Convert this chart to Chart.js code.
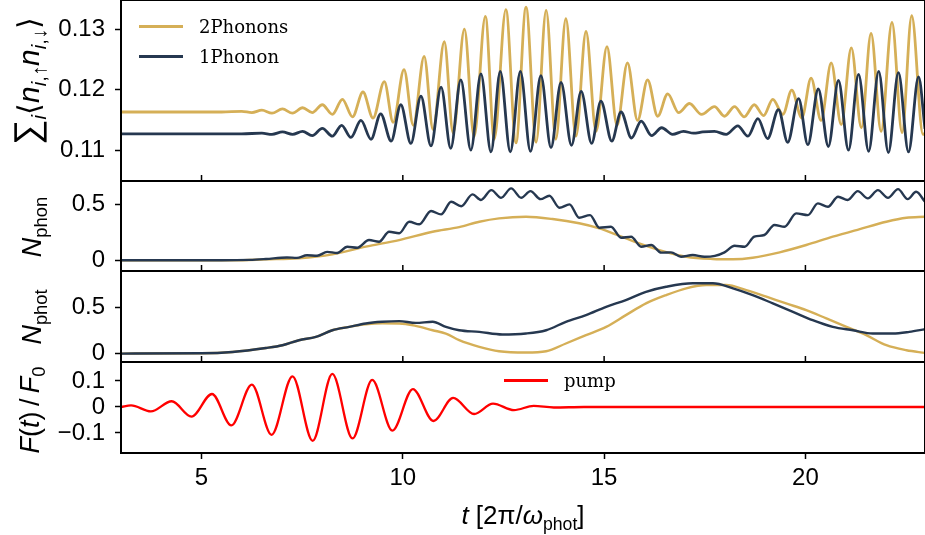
<!DOCTYPE html>
<html>
<head>
<meta charset="utf-8">
<script src="https://cdn.jsdelivr.net/npm/chart.js@4.4.1/dist/chart.umd.min.js"></script>
<style>
  html, body { margin: 0; padding: 0; background: #fff; }
  #fig { position: relative; width: 925px; height: 535px; overflow: hidden; font-family: 'Liberation Sans', Arial, sans-serif; color: #000; }
  .panel { position: absolute; left: 0; width: 925px; }
  .ylab { position: absolute; transform: translate(-50%, -50%) rotate(-90deg); white-space: nowrap; font-size: 27px; }
  .xlab { position: absolute; transform: translate(-50%, -50%); white-space: nowrap; font-size: 26px; }
  .legend { position: absolute; font-family: 'DejaVu Serif', serif; font-size: 18px; }
  .legend .item { position: absolute; left: 0; height: 30px; width: 200px; }
  .legend .swatch { position: absolute; left: 0; top: 13px; width: 44px; height: 3px; }
  .legend .txt { position: absolute; left: 60px; top: 0; line-height: 30px; white-space: nowrap; }
  sub { font-size: 68%; vertical-align: -0.35em; line-height: 0; }
</style>
</head>
<body>
<div id="fig">
  <div class="panel" id="p1" style="top:-8px;height:197px"><canvas id="c1"></canvas></div>
  <div class="panel" id="p2" style="top:173px;height:106px"><canvas id="c2"></canvas></div>
  <div class="panel" id="p3" style="top:263px;height:107px"><canvas id="c3"></canvas></div>
  <div class="panel" id="p4" style="top:354px;height:181px"><canvas id="c4"></canvas></div>

  <div class="ylab" style="left:27px;top:81px;font-size:30px"><span style="font-size:120%">&sum;</span><sub><i>i</i></sub>&#x27E8;<i>n</i><sub><i>i</i>,&uarr;</sub><i>n</i><sub><i>i</i>,&darr;</sub>&#x27E9;</div>
  <div class="ylab" style="left:32px;top:227px"><i>N</i><sub>phon</sub></div>
  <div class="ylab" style="left:32px;top:317px"><i>N</i><sub>phot</sub></div>
  <div class="ylab" style="left:30px;top:410px"><i>F</i>(<i>t</i>)&thinsp;/&thinsp;<i>F</i><sub>0</sub></div>
  <div class="xlab" style="left:523px;top:515px"><i>t</i> [2&pi;/<i>&omega;</i><sub>phot</sub>]</div>

  <div class="legend" id="leg1" style="left:139px;top:12px"></div>
  <div class="legend" id="leg2" style="left:504px;top:366px"></div>
</div>
<script>
// x axis
const xMin = 3.0;
const xMax = 22.97;
const xTicks = [5, 10, 15, 20];

const seriesLabels = ['2Phonons', '1Phonon'];
const pumpLabel = 'pump';
const goldColor = '#d5af57';
const blueColor = '#263850';

// top panel: sum_i <n_up n_down>
const corrTicks = [0.11, 0.12, 0.13];
const corrGoldT = [3.0, 5.5, 6.0, 6.25, 6.5, 6.75, 7.01, 7.26, 7.51, 7.75, 8.0, 8.25, 8.5, 8.75, 9.01, 9.26, 9.54, 9.76,
  10.03, 10.26, 10.53, 10.75, 11.03, 11.25, 11.53, 11.77, 12.05, 12.27, 12.56, 12.81, 13.06, 13.31, 13.56, 13.8,
  14.05, 14.3, 14.55, 14.8, 15.07, 15.32, 15.58, 15.83, 16.08, 16.33, 16.58, 16.85, 17.12, 17.42, 17.74, 17.99,
  18.24, 18.48, 18.73, 18.96, 19.19, 19.44, 19.66, 19.91, 20.14, 20.39, 20.64, 20.89, 21.14, 21.39, 21.63, 21.88,
  22.15, 22.4, 22.64, 22.92, 22.97];
const corrGoldV = [0.1163, 0.1163, 0.1164, 0.1162, 0.1166, 0.1161, 0.1168, 0.1161, 0.1170, 0.1162, 0.1175, 0.1159,
  0.1184, 0.1155, 0.1196, 0.1153, 0.1213, 0.1146, 0.1233, 0.1141, 0.1255, 0.1134, 0.1279, 0.1128, 0.1300, 0.1122,
  0.1321, 0.1118, 0.1332, 0.1112, 0.1336, 0.1113, 0.1331, 0.1118, 0.1317, 0.1123, 0.1296, 0.1131, 0.1271, 0.1141,
  0.1244, 0.1149, 0.1216, 0.1156, 0.1193, 0.1162, 0.1177, 0.1159, 0.1172, 0.1156, 0.1172, 0.1155, 0.1175, 0.1157,
  0.1184, 0.1159, 0.1199, 0.1153, 0.1219, 0.1149, 0.1244, 0.1142, 0.1269, 0.1137, 0.1293, 0.1131, 0.1311, 0.1129,
  0.1322, 0.1126, 0.1128];
const corrBlueT = [3.0, 6.0, 6.5, 6.75, 7.01, 7.26, 7.51, 7.75, 8.0, 8.25, 8.48, 8.71, 8.96, 9.21, 9.45, 9.71, 9.95,
  10.2, 10.45, 10.7, 10.95, 11.19, 11.44, 11.69, 11.94, 12.19, 12.42, 12.67, 12.92, 13.17, 13.43, 13.68, 13.93,
  14.19, 14.43, 14.69, 14.92, 15.19, 15.42, 15.68, 15.92, 16.18, 16.43, 16.7, 16.97, 17.22, 17.45, 17.74, 18.03,
  18.32, 18.57, 18.82, 19.06, 19.33, 19.56, 19.83, 20.06, 20.32, 20.57, 20.82, 21.07, 21.32, 21.57, 21.82, 22.06,
  22.31, 22.56, 22.81, 22.97];
const corrBlueV = [0.1127, 0.1127, 0.1128, 0.1126, 0.1130, 0.1126, 0.1131, 0.1124, 0.1136, 0.1123, 0.1141, 0.1121,
  0.1149, 0.1118, 0.1160, 0.1115, 0.1175, 0.1111, 0.1189, 0.1107, 0.1204, 0.1103, 0.1216, 0.1100, 0.1226, 0.1097,
  0.1230, 0.1097, 0.1230, 0.1098, 0.1223, 0.1104, 0.1212, 0.1108, 0.1197, 0.1111, 0.1181, 0.1115, 0.1163, 0.1120,
  0.1148, 0.1124, 0.1137, 0.1126, 0.1131, 0.1128, 0.1130, 0.1131, 0.1126, 0.1140, 0.1123, 0.1152, 0.1119, 0.1167,
  0.1113, 0.1185, 0.1109, 0.1201, 0.1106, 0.1215, 0.1100, 0.1225, 0.1098, 0.1230, 0.1096, 0.1228, 0.1097, 0.1221,
  0.1135];

// N_phon
const phonTicks = [0, 0.5];
const phonGoldT = [3.0, 5.8, 6.6, 7.42, 8.25, 9.08, 9.91, 10.74, 11.4, 11.9, 12.39, 13.06, 13.72, 14.38, 14.88, 15.38,
  15.87, 16.37, 17.04, 17.7, 18.2, 18.69, 19.36, 20.02, 20.68, 21.35, 22.01, 22.51, 22.97];
const phonGoldV = [0, 0, 0.008, 0.018, 0.053, 0.121, 0.18, 0.254, 0.295, 0.343, 0.373, 0.387, 0.367, 0.329, 0.284,
  0.218, 0.151, 0.091, 0.032, 0.012, 0.009, 0.023, 0.071, 0.136, 0.21, 0.278, 0.343, 0.378, 0.387];
const phonBlueT = [3.0, 5.5, 6.2, 6.6, 7.12, 7.37, 7.62, 7.87, 8.12, 8.37, 8.62, 8.87, 9.16, 9.41, 9.66, 9.91, 10.16,
  10.41, 10.7, 10.95, 11.2, 11.45, 11.73, 11.94, 12.2, 12.44, 12.69, 12.94, 13.17, 13.42, 13.64, 13.89, 14.14,
  14.38, 14.65, 14.88, 15.17, 15.42, 15.67, 15.92, 16.17, 16.42, 16.66, 16.91, 17.2, 17.49, 17.75, 17.99, 18.24,
  18.49, 18.73, 18.98, 19.23, 19.48, 19.77, 20.06, 20.31, 20.56, 20.81, 21.05, 21.3, 21.55, 21.8, 22.05, 22.3,
  22.54, 22.75, 22.97];
const phonBlueV = [0, 0, 0.004, 0.012, 0.025, 0.022, 0.045, 0.04, 0.075, 0.065, 0.121, 0.112, 0.18, 0.165, 0.254,
  0.24, 0.343, 0.32, 0.438, 0.408, 0.52, 0.48, 0.586, 0.536, 0.624, 0.556, 0.639, 0.556, 0.615, 0.544, 0.574,
  0.467, 0.497, 0.378, 0.402, 0.29, 0.298, 0.201, 0.21, 0.121, 0.136, 0.068, 0.071, 0.032, 0.047, 0.032, 0.04,
  0.071, 0.13, 0.121, 0.21, 0.225, 0.314, 0.298, 0.417, 0.402, 0.506, 0.476, 0.565, 0.536, 0.615, 0.551, 0.624,
  0.556, 0.633, 0.544, 0.609, 0.52];

// N_phot
const photTicks = [0, 0.5];
const photGoldT = [3.0, 5.0, 5.77, 6.6, 7.01, 7.42, 7.84, 8.25, 8.67, 9.08, 9.49, 9.91, 10.32, 10.74, 11.07, 11.4,
  11.9, 12.39, 13.06, 13.56, 14.05, 14.55, 15.05, 15.54, 16.04, 16.54, 17.04, 17.54, 18.03, 18.53, 19.03, 19.52,
  20.02, 20.52, 21.02, 21.51, 22.01, 22.51, 22.97];
const photGoldV = [0, 0.003, 0.018, 0.061, 0.091, 0.146, 0.182, 0.255, 0.292, 0.32, 0.33, 0.329, 0.303, 0.255, 0.219,
  0.146, 0.073, 0.025, 0.011, 0.025, 0.11, 0.201, 0.292, 0.42, 0.548, 0.639, 0.713, 0.749, 0.749, 0.694, 0.621,
  0.548, 0.475, 0.384, 0.292, 0.201, 0.091, 0.036, 0.007];
const photBlueT = [3.0, 5.0, 5.77, 6.6, 7.01, 7.42, 7.84, 8.25, 8.67, 9.08, 9.49, 9.91, 10.32, 10.74, 11.07, 11.4,
  11.9, 12.47, 13.06, 13.56, 14.05, 14.55, 15.05, 15.54, 16.04, 16.54, 17.2, 17.7, 18.2, 18.69, 19.19, 19.69,
  20.18, 20.68, 21.18, 21.67, 22.17, 22.58, 22.97];
const photBlueV = [0, 0.003, 0.018, 0.061, 0.091, 0.146, 0.182, 0.255, 0.292, 0.329, 0.347, 0.354, 0.335, 0.347,
  0.292, 0.255, 0.237, 0.208, 0.219, 0.255, 0.347, 0.42, 0.511, 0.584, 0.675, 0.73, 0.768, 0.768, 0.713, 0.639,
  0.548, 0.456, 0.365, 0.292, 0.255, 0.219, 0.219, 0.237, 0.266];

// F(t)/F0
const pumpTicks = [-0.1, 0, 0.1];
const pumpT = [3.0, 3.25, 3.74, 4.26, 4.75, 5.26, 5.74, 6.25, 6.74, 7.26, 7.76, 8.25, 8.75, 9.24, 9.74, 10.25, 10.76,
  11.25, 11.77, 12.24, 12.76, 13.25, 13.75, 14.5, 22.97];
const pumpV = [0, 0.006, -0.017, 0.022, -0.037, 0.05, -0.071, 0.086, -0.107, 0.118, -0.13, 0.127, -0.121, 0.104,
  -0.091, 0.069, -0.054, 0.035, -0.027, 0.013, -0.012, 0.004, -0.002, 0, 0];

const pts = (ts, vs) => ts.map((t, i) => ({ x: t, y: vs[i] }));

const tickFont = { family: "'Liberation Sans', Arial, sans-serif", size: 24 };

const framePlugin = {
  id: 'frame',
  afterDraw(chart) {
    const { ctx, chartArea: a } = chart;
    const sx = chart.scales.x;
    ctx.save();
    ctx.strokeStyle = '#000';
    ctx.lineWidth = 2;
    ctx.strokeRect(a.left, a.top, a.right - a.left, a.bottom - a.top);
    ctx.lineWidth = 1.5;
    ctx.beginPath();
    xTicks.forEach(v => {
      const px = sx.getPixelForValue(v);
      ctx.moveTo(px, a.top);
      ctx.lineTo(px, a.top - 6);
    });
    ctx.stroke();
    ctx.restore();
  }
};

function line(label, ts, vs, color, width, order) {
  return {
    label: label,
    data: pts(ts, vs),
    borderColor: color,
    backgroundColor: color,
    borderWidth: width,
    pointRadius: 0,
    cubicInterpolationMode: 'monotone',
    fill: false,
    order: order
  };
}

// keep tick-label overflow from pushing the plot area around
function noPad(ax) {
  ax.paddingTop = 0;
  ax.paddingBottom = 0;
  ax.paddingLeft = 0;
  ax.paddingRight = 0;
}

function makePanel(canvasId, datasets, yMin, yMax, yTicks, showX) {
  return new Chart(document.getElementById(canvasId), {
    type: 'line',
    data: { datasets: datasets },
    options: {
      responsive: true,
      maintainAspectRatio: false,
      animation: false,
      layout: { padding: { top: 8, bottom: showX ? 0 : 8, left: 0, right: 0 } },
      plugins: { legend: { display: false }, tooltip: { enabled: false } },
      scales: {
        x: {
          type: 'linear',
          min: xMin,
          max: xMax,
          display: showX,
          afterBuildTicks: ax => { ax.ticks = xTicks.map(v => ({ value: v })); },
          afterFit: ax => { noPad(ax); if (showX) ax.height = 82; },
          grid: { drawOnChartArea: false, tickLength: 6, tickWidth: 1.5, tickColor: '#000' },
          border: { display: false },
          ticks: { color: '#000', padding: 5, maxRotation: 0, autoSkip: false,
            font: { family: tickFont.family, size: 24 } }
        },
        y: {
          type: 'linear',
          min: yMin,
          max: yMax,
          afterBuildTicks: ax => { ax.ticks = yTicks.map(v => ({ value: v })); },
          afterFit: ax => { noPad(ax); ax.width = 121; },
          grid: { drawOnChartArea: false, tickLength: 6, tickWidth: 1.5, tickColor: '#000' },
          border: { display: false },
          ticks: { color: '#000', padding: 10, autoSkip: false, font: tickFont,
            callback: v => String(v).replace('-', '\u2212') }
        }
      }
    },
    plugins: [framePlugin]
  });
}

const chart1 = makePanel('c1', [
  line(seriesLabels[0], corrGoldT, corrGoldV, goldColor, 2.8, 1),
  line(seriesLabels[1], corrBlueT, corrBlueV, blueColor, 2.8, 0)
], 0.1049, 0.1348, corrTicks, false);

makePanel('c2', [
  line(seriesLabels[0], phonGoldT, phonGoldV, goldColor, 2.4, 1),
  line(seriesLabels[1], phonBlueT, phonBlueV, blueColor, 2.4, 0)
], -0.095, 0.705, phonTicks, false);

makePanel('c3', [
  line(seriesLabels[0], photGoldT, photGoldV, goldColor, 2.4, 1),
  line(seriesLabels[1], photBlueT, photBlueV, blueColor, 2.4, 0)
], -0.092, 0.902, photTicks, false);

const chart4 = makePanel('c4', [
  line(pumpLabel, pumpT, pumpV, '#ff0000', 2.3, 0)
], -0.177, 0.173, pumpTicks, true);

function buildLegend(elId, chart) {
  const el = document.getElementById(elId);
  chart.data.datasets.forEach((ds, i) => {
    const item = document.createElement('div');
    item.className = 'item';
    item.style.top = (i * 30) + 'px';
    const sw = document.createElement('div');
    sw.className = 'swatch';
    sw.style.background = ds.borderColor;
    const txt = document.createElement('div');
    txt.className = 'txt';
    txt.textContent = ds.label;
    item.appendChild(sw);
    item.appendChild(txt);
    el.appendChild(item);
  });
}
buildLegend('leg1', chart1);
buildLegend('leg2', chart4);
</script>
</body>
</html>
